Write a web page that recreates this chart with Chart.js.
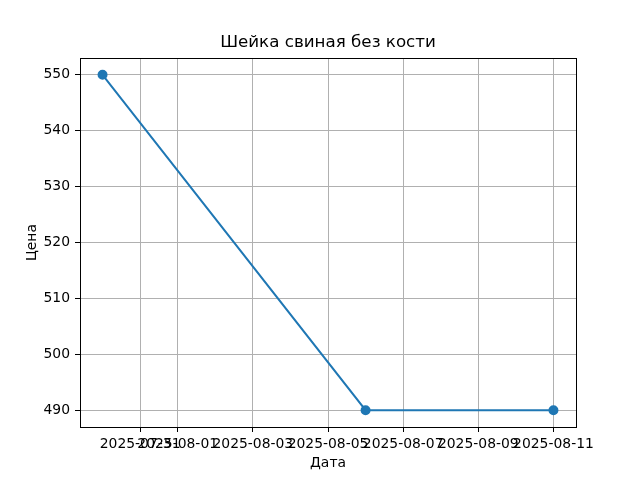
<!DOCTYPE html>
<html>
<head>
<meta charset="utf-8">
<script src="https://cdn.jsdelivr.net/npm/chart.js@4"></script>
<style>
  html, body { margin: 0; padding: 0; background: #fff; }
  #wrap { width: 640px; height: 480px; }
</style>
</head>
<body>
<div id="wrap"><canvas id="grafico" width="640" height="480"></canvas></div>
<script>
// Dados do gráfico
const titulo = "Шейка свиная без кости";
const datas = ["2025-07-30", "2025-08-06", "2025-08-11"];
const precos = [550, 490, 490];
const ticksX = ["2025-07-31", "2025-08-01", "2025-08-03", "2025-08-05", "2025-08-07", "2025-08-09", "2025-08-11"];
const ticksY = [490, 500, 510, 520, 530, 540, 550];

const DIA = 86400000;
function dia(s) { return Date.parse(s + "T00:00:00Z") / DIA; }
function rotulo(v) { return new Date(Math.round(v) * DIA).toISOString().slice(0, 10); }

const xs = datas.map(dia);
const margemX = (xs[xs.length - 1] - xs[0]) * 0.05;
const margemY = (Math.max(...precos) - Math.min(...precos)) * 0.05;

const fonte = "'DejaVu Sans', sans-serif";

// caixa completa em volta da área + título centrado sobre os eixos
const moldura = {
  id: "moldura",
  afterDraw(chart) {
    const { ctx, chartArea: a } = chart;
    ctx.save();
    ctx.strokeStyle = "#000";
    ctx.lineWidth = 1;
    ctx.strokeRect(Math.round(a.left) + 0.5, Math.round(a.top) + 0.5,
      Math.round(a.right - a.left), Math.round(a.bottom - a.top));
    ctx.fillStyle = "#000";
    ctx.font = "16.7px " + fonte;
    ctx.textAlign = "center";
    ctx.textBaseline = "middle";
    ctx.fillText(titulo, (a.left + a.right) / 2, 43);
    ctx.restore();
  }
};

new Chart(document.getElementById("grafico"), {
  type: "line",
  data: {
    datasets: [{
      label: "Цена",
      data: xs.map((x, i) => ({ x: x, y: precos[i] })),
      borderColor: "#1f77b4",
      backgroundColor: "#1f77b4",
      borderWidth: 2,
      pointRadius: 4,
      pointBackgroundColor: "#1f77b4",
      pointBorderColor: "#1f77b4",
      tension: 0,
      fill: false
    }]
  },
  options: {
    responsive: false,
    animation: false,
    layout: { padding: { left: 0, right: 64, top: 58, bottom: 0 } },
    plugins: {
      legend: { display: false },
      tooltip: { enabled: false },
      title: { display: false }
    },
    scales: {
      x: {
        type: "linear",
        min: xs[0] - margemX,
        max: xs[xs.length - 1] + margemX,
        afterBuildTicks: s => { s.ticks = ticksX.map(t => ({ value: dia(t) })); },
        afterFit: s => { s.height = 53; },
        grid: { color: "#b0b0b0", lineWidth: 1, tickColor: "#000", tickLength: 5 },
        border: { color: "#000", width: 1 },
        ticks: {
          autoSkip: false,
          maxRotation: 0,
          minRotation: 0,
          padding: 4,
          color: "#000",
          font: { family: fonte, size: 13.9 },
          callback: v => rotulo(v)
        },
        title: {
          display: true,
          text: "Дата",
          color: "#000",
          font: { family: fonte, size: 13.9 },
          padding: { top: 0, bottom: 8 }
        }
      },
      y: {
        min: Math.min(...precos) - margemY,
        max: Math.max(...precos) + margemY,
        afterBuildTicks: s => { s.ticks = ticksY.map(v => ({ value: v })); },
        afterFit: s => { s.width = 80; },
        grid: { color: "#b0b0b0", lineWidth: 1, tickColor: "#000", tickLength: 5 },
        border: { color: "#000", width: 1 },
        ticks: {
          padding: 5,
          color: "#000",
          font: { family: fonte, size: 13.9 }
        },
        title: {
          display: true,
          text: "Цена",
          color: "#000",
          font: { family: fonte, size: 13.9 },
          padding: { top: 24, bottom: 0 }
        }
      }
    }
  },
  plugins: [moldura]
});
</script>
</body>
</html>
